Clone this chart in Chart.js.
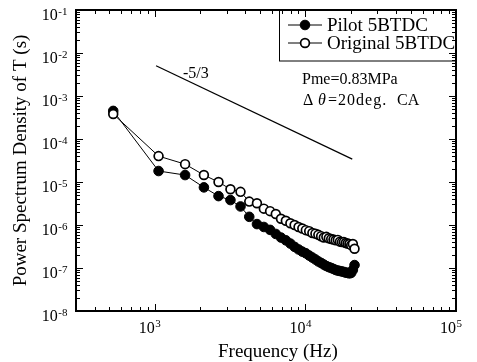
<!DOCTYPE html>
<html><head><meta charset="utf-8">
<script src="https://cdn.jsdelivr.net/npm/chart.js@4.4.1/dist/chart.umd.min.js"></script>
<style>html,body{margin:0;padding:0;background:#fff;}#wrap{width:477px;height:362px;}</style>
</head><body><div id="wrap"><canvas id="c" width="477" height="362"></canvas></div>
<script>
// ---- data ----
const frequencyHz = [530,1060,1590,2120,2650,3180,3710,4240,4770,5300,
  5830,6360,6890,7420,7950,8480,9010,9540,10070,10600,
  11130,11660,12190,12720,13250,13780,14310,14840,15370,15900,
  16430,16960,17490,18020,18550,19080,19610,20140,20670,21200];
const pilot5BTDC = [4.5e-4,1.8e-5,1.45e-5,7.5e-6,4.7e-6,3.8e-6,2.7e-6,1.55e-6,1.05e-6,9.0e-7,
  7.7e-7,6.2e-7,5.1e-7,4.4e-7,3.7e-7,3.1e-7,2.7e-7,2.4e-7,2.2e-7,1.95e-7,
  1.75e-7,1.58e-7,1.42e-7,1.31e-7,1.2e-7,1.11e-7,1.05e-7,1.0e-7,9.5e-8,9.0e-8,
  8.7e-8,8.5e-8,8.3e-8,8.1e-8,7.8e-8,7.7e-8,7.5e-8,7.7e-8,9.0e-8,1.17e-7];
const original5BTDC = [3.8e-4,4.0e-5,2.6e-5,1.45e-5,1.0e-5,6.8e-6,5.9e-6,3.5e-6,3.2e-6,2.4e-6,
  2.1e-6,1.8e-6,1.4e-6,1.25e-6,1.1e-6,1.0e-6,9.0e-7,8.3e-7,7.6e-7,7.2e-7,
  6.5e-7,6.3e-7,5.9e-7,5.5e-7,5.1e-7,5.3e-7,4.9e-7,4.7e-7,4.6e-7,4.4e-7,
  4.5e-7,4.1e-7,4.0e-7,4.0e-7,3.8e-7,3.7e-7,3.6e-7,3.4e-7,3.6e-7,2.8e-7];
const slopeFreq = [1020, 20480];
const slopePSD = [5.07e-3, 3.41e-5];
const seriesLabels = ['Pilot 5BTDC', 'Original 5BTDC'];
const xDecades = [1e3, 1e4, 1e5];
const xTickLabels = ['3', '4', '5'];
const yDecades = [1e-8, 1e-7, 1e-6, 1e-5, 1e-4, 1e-3, 1e-2, 1e-1];
const yTickLabels = ['-8', '-7', '-6', '-5', '-4', '-3', '-2', '-1'];
const xTitle = 'Frequency (Hz)';
const yTitle = 'Power Spectrum Density of T (s)';
const noteLine1 = 'Pme=0.83MPa';
const noteLine2 = ['\u0394', '\u03B8', '=20deg.', 'CA'];
const slopeText = '-5/3';

const X_MIN = 300, X_MAX = 1e5, Y_MIN = 1e-8, Y_MAX = 1e-1;
const SERIF = '"Liberation Serif", "DejaVu Serif", serif';

function logTicks(decades, min, max) {
  const out = [];
  const lo = Math.floor(Math.log10(min)), hi = Math.ceil(Math.log10(max));
  for (let e = lo; e <= hi; e++) {
    for (let m = 1; m < 10; m++) {
      const v = m * Math.pow(10, e);
      if (v >= min * 0.999 && v <= max * 1.001) out.push({ value: v, major: m === 1 });
    }
  }
  return out;
}

const pts = (xs, ys) => xs.map((x, i) => ({ x: x, y: ys[i] }));

const decor = {
  id: 'decor',
  afterDatasetsDraw(chart) {
    const ctx = chart.ctx, a = chart.chartArea;
    const xs = chart.scales.x, ys = chart.scales.y;
    ctx.save();
    ctx.strokeStyle = '#000'; ctx.fillStyle = '#000';
    // ticks
    ctx.lineWidth = 1;
    xs.ticks.forEach(t => {
      const px = Math.round(xs.getPixelForValue(t.value)) + 0.5;
      const len = t.major ? 7 : 4;
      ctx.beginPath();
      ctx.moveTo(px, a.bottom); ctx.lineTo(px, a.bottom - len);
      ctx.moveTo(px, a.top); ctx.lineTo(px, a.top + len);
      ctx.stroke();
    });
    ys.ticks.forEach(t => {
      const py = Math.round(ys.getPixelForValue(t.value)) + 0.5;
      const len = t.major ? 7 : 4;
      ctx.beginPath();
      ctx.moveTo(a.left, py); ctx.lineTo(a.left + len, py);
      ctx.moveTo(a.right, py); ctx.lineTo(a.right - len, py);
      ctx.stroke();
    });
    // frame
    ctx.lineWidth = 2;
    ctx.strokeRect(a.left, a.top, a.right - a.left, a.bottom - a.top);
    // y tick labels
    ctx.textBaseline = 'alphabetic';
    ctx.textAlign = 'left';
    yDecades.forEach((v, i) => {
      const py = ys.getPixelForValue(v);
      ctx.font = '16px ' + SERIF;
      const wb = ctx.measureText('10').width;
      ctx.font = '11px ' + SERIF;
      const ws = ctx.measureText(yTickLabels[i]).width;
      const x0 = a.left - 9 - ws - wb;
      ctx.font = '16px ' + SERIF;
      ctx.fillText('10', x0, py + 10);
      ctx.font = '11px ' + SERIF;
      ctx.fillText(yTickLabels[i], x0 + wb + 0.5, py + 5);
    });
    // x tick labels
    xDecades.forEach((v, i) => {
      const px = xs.getPixelForValue(v);
      ctx.font = '16px ' + SERIF;
      const wb = ctx.measureText('10').width;
      ctx.fillText('10', px - wb, a.bottom + 22);
      ctx.font = '11px ' + SERIF;
      ctx.fillText(xTickLabels[i], px + 0.5, a.bottom + 16);
    });
    // axis titles
    ctx.font = '19px ' + SERIF;
    ctx.textAlign = 'left';
    ctx.fillText(xTitle, 218, 357);
    ctx.save();
    ctx.translate(26, (a.top + a.bottom) / 2);
    ctx.rotate(-Math.PI / 2);
    ctx.textAlign = 'center';
    ctx.fillText(yTitle, 0, 0);
    ctx.restore();
    // slope label
    ctx.font = '16px ' + SERIF;
    ctx.textAlign = 'left';
    ctx.fillText(slopeText, 183, 78);
    // annotation
    ctx.fillText(noteLine1, 302, 84);
    ctx.fillText(noteLine2[0], 303, 105);
    ctx.font = 'italic 16px ' + SERIF;
    ctx.fillText(noteLine2[1], 318, 105);
    ctx.font = '16px ' + SERIF;
    if ('letterSpacing' in ctx) ctx.letterSpacing = '1px';
    ctx.fillText(noteLine2[2], 328, 105);
    if ('letterSpacing' in ctx) ctx.letterSpacing = '0px';
    ctx.fillText(noteLine2[3], 397, 105);
    // legend
    const lx = 279.5, ly = a.top, lw = a.right - 279.5, lh = 51;
    ctx.lineWidth = 1;
    ctx.strokeRect(lx, ly, lw, lh);
    const rows = [ly + 15, ly + 33];
    [0, 1].forEach(i => {
      const ds = chart.data.datasets[i];
      const y = rows[i];
      ctx.lineWidth = 1;
      ctx.beginPath(); ctx.moveTo(288, y); ctx.lineTo(322, y); ctx.stroke();
      ctx.beginPath(); ctx.arc(305, y, ds.pointRadius, 0, Math.PI * 2);
      ctx.fillStyle = ds.pointBackgroundColor; ctx.fill();
      ctx.lineWidth = ds.pointBorderWidth; ctx.strokeStyle = '#000'; ctx.stroke();
      ctx.fillStyle = '#000';
      ctx.font = '19px ' + SERIF;
      ctx.textBaseline = 'middle';
      ctx.fillText(ds.label, 327, y + 1);
      ctx.textBaseline = 'alphabetic';
    });
    ctx.restore();
  }
};

new Chart(document.getElementById('c'), {
  type: 'scatter',
  data: {
    datasets: [
      { label: seriesLabels[0], data: pts(frequencyHz, pilot5BTDC), showLine: true,
        borderColor: '#000', borderWidth: 1, pointRadius: 4.8, pointBackgroundColor: '#000',
        pointBorderColor: '#000', pointBorderWidth: 1, order: 1 },
      { label: seriesLabels[1], data: pts(frequencyHz, original5BTDC), showLine: true,
        borderColor: '#000', borderWidth: 1, pointRadius: 4.4, pointBackgroundColor: '#fff',
        pointBorderColor: '#000', pointBorderWidth: 1.7, order: 0 },
      { label: 'slope', data: pts(slopeFreq, slopePSD), showLine: true,
        borderColor: '#000', borderWidth: 1.2, pointRadius: 0, order: 2 }
    ]
  },
  options: {
    responsive: false, animation: false, devicePixelRatio: 1,
    layout: { padding: { left: 76, right: 21, top: 10, bottom: 51 } },
    plugins: { legend: { display: false }, tooltip: { enabled: false } },
    scales: {
      x: { type: 'logarithmic', min: X_MIN, max: X_MAX,
        afterBuildTicks: s => { s.ticks = logTicks(xDecades, X_MIN, X_MAX); },
        ticks: { display: false }, grid: { display: false }, border: { display: false },
        afterFit: s => { s.height = 0; } },
      y: { type: 'logarithmic', min: Y_MIN, max: Y_MAX,
        afterBuildTicks: s => { s.ticks = logTicks(yDecades, Y_MIN, Y_MAX); },
        ticks: { display: false }, grid: { display: false }, border: { display: false },
        afterFit: s => { s.width = 0; } }
    }
  },
  plugins: [decor]
});
</script></body></html>
